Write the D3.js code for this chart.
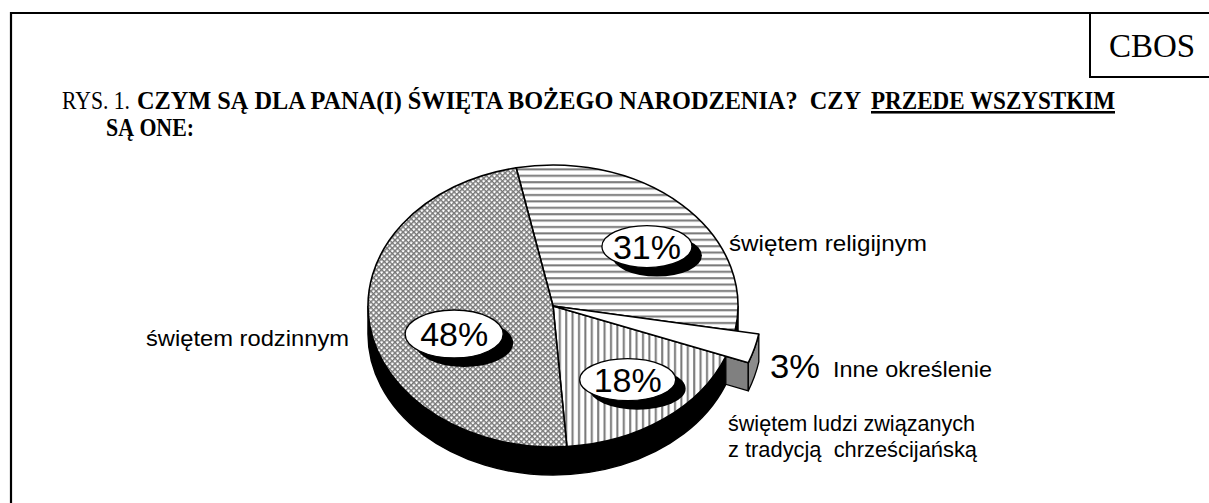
<!DOCTYPE html>
<html><head><meta charset="utf-8">
<script src="https://cdn.jsdelivr.net/npm/d3@7"></script>
<style>body{margin:0;background:#fff}svg{display:block}text{white-space:pre}</style>
</head><body>
<svg id="c" width="1209" height="503"></svg>
<script>
// ---- data ----
const categories = ["świętem religijnym", "Inne określenie", "świętem ludzi związanych|z tradycją  chrześcijańską", "świętem rodzinnym"];
const values = [31, 3, 18, 48];
const percentLabels = ["31%", "3%", "18%", "48%"];
const explodedIndex = [1];
const titleParts = ["RYS. 1.", "CZYM SĄ DLA PANA(I) ŚWIĘTA BOŻEGO NARODZENIA?  CZY", "PRZEDE WSZYSTKIM", "SĄ ONE:"];

// ---- layout ----
const W = 1209, H = 503;
const cx = 553, cy = 306, rx = 185, ry = 141, depth = 28, explodeK = 1.13;
const rad = Math.PI / 180;
const svg = d3.select("#c");

const defs = svg.append("defs");
const ph = defs.append("pattern").attr("id","hl").attr("patternUnits","userSpaceOnUse").attr("width",8).attr("height",6.4);
ph.append("rect").attr("width",8).attr("height",6.4).attr("fill","#fff");
ph.append("rect").attr("y",2).attr("width",8).attr("height",2).attr("fill","#777");
const pv = defs.append("pattern").attr("id","vl").attr("patternUnits","userSpaceOnUse").attr("width",6.4).attr("height",8);
pv.append("rect").attr("width",6.4).attr("height",8).attr("fill","#fff");
pv.append("rect").attr("x",2).attr("width",2).attr("height",8).attr("fill","#777");
const pc = defs.append("pattern").attr("id","ch").attr("patternUnits","userSpaceOnUse").attr("width",3.8).attr("height",3.8).attr("patternTransform","rotate(45)");
pc.append("rect").attr("width",3.8).attr("height",3.8).attr("fill","#fff");
pc.append("path").attr("d","M0,0.7H3.8M0.7,0V3.8").attr("stroke","#777").attr("stroke-width",1.5);
const fills = ["url(#hl)", "#fff", "url(#vl)", "url(#ch)"];

// frame
svg.append("path").attr("d",`M11,${H+5}V13H${W+5}`).attr("fill","none").attr("stroke","#000").attr("stroke-width",2.2);
svg.append("path").attr("d",`M1090,13V77H${W+5}`).attr("fill","none").attr("stroke","#000").attr("stroke-width",2);
svg.append("text").attr("x",1152).attr("y",57).attr("text-anchor","middle")
  .attr("font-family","'Liberation Serif','Times New Roman',serif").attr("font-size",33).text("CBOS");

// title
const tf = "'Liberation Serif','Times New Roman',serif";
const ttl = (x, y, s, len, bold, ul) => svg.append("text").attr("x",x).attr("y",y).attr("font-family",tf).attr("font-size",25.5)
  .attr("font-weight", bold ? "bold" : "normal").attr("text-decoration", ul ? "underline" : "none")
  .attr("textLength",len).attr("lengthAdjust","spacingAndGlyphs").text(s);
ttl(62, 109, titleParts[0], 68, false, false);
ttl(137, 109, titleParts[1], 724, true, false);
ttl(871, 109, titleParts[2], 244, true, true);
ttl(106, 136, titleParts[3], 88, true, false);

// pie
const pie = d3.pie().sort(null).value(d => d).startAngle(-11.5 * rad).endAngle(-11.5 * rad + 2 * Math.PI);
const arcs = pie(values);
const P = (t, k = 1, dy = 0) => [cx + k * rx * Math.sin(t), cy - k * ry * Math.cos(t) + dy];
const topPath = (a0, a1, k) => {
  const p0 = P(a0, k), p1 = P(a1, k), large = (a1 - a0) > Math.PI ? 1 : 0;
  return `M${cx},${cy}L${p0}A${k*rx},${k*ry} 0 ${large} 1 ${p1}Z`;
};
const g = svg.append("g");
{
  const r = P(90*rad), l = P(270*rad), rd = P(90*rad,1,depth), ld = P(270*rad,1,depth);
  g.append("path").attr("d",`M${r}A${rx},${ry} 0 0 1 ${l}L${ld}A${rx},${ry} 0 0 0 ${rd}Z`)
   .attr("fill","#000").attr("stroke","#000").attr("stroke-width",1.5);
}
explodedIndex.forEach(i => {
  const a = arcs[i], k = explodeK;
  const o1 = P(a.startAngle,k), o2 = P(a.endAngle,k), o1d = P(a.startAngle,k,depth), o2d = P(a.endAngle,k,depth);
  const i2 = P(a.endAngle,1), i2d = P(a.endAngle,1,depth);
  g.append("path").attr("d",`M${i2}L${o2}L${o2d}L${i2d}Z`).attr("fill","#808080").attr("stroke","#000").attr("stroke-width",1.3);
  g.append("path").attr("d",`M${o1}A${k*rx},${k*ry} 0 0 1 ${o2}L${o2d}A${k*rx},${k*ry} 0 0 0 ${o1d}Z`).attr("fill","#8c8c8c").attr("stroke","#000").attr("stroke-width",1.3);
});
arcs.forEach((a, i) => {
  if (explodedIndex.includes(i)) return;
  g.append("path").attr("d", topPath(a.startAngle, a.endAngle, 1)).attr("fill", fills[i]).attr("stroke","#000").attr("stroke-width",1.6).attr("stroke-linejoin","round");
});
explodedIndex.forEach(i => {
  const a = arcs[i];
  g.append("path").attr("d", topPath(a.startAngle, a.endAngle, explodeK)).attr("fill", fills[i]).attr("stroke","#000").attr("stroke-width",1.6).attr("stroke-linejoin","round");
});

// bubbles
const bubbleNudge = [6, 0, -1, -12.5];
const bubbleK = [0.66, 0, 0.66, 0.57];
const bubbleR = [[45,21],[0,0],[48,21],[49,24]];
const sf = "'Liberation Sans',Arial,sans-serif";
arcs.forEach((a, i) => {
  if (explodedIndex.includes(i)) return;
  const m = (a.startAngle + a.endAngle) / 2 + bubbleNudge[i] * rad;
  const [x, y] = P(m, bubbleK[i]);
  const [brx, bry] = bubbleR[i];
  g.append("ellipse").attr("cx",x+10).attr("cy",y+9).attr("rx",brx).attr("ry",bry).attr("fill","#000");
  g.append("ellipse").attr("cx",x).attr("cy",y).attr("rx",brx).attr("ry",bry).attr("fill","#fff").attr("stroke","#000").attr("stroke-width",1.3);
  g.append("text").attr("x",x).attr("y",y+12).attr("text-anchor","middle").attr("font-family",sf).attr("font-size",34).text(percentLabels[i]);
});

// outer labels
const lab = (x, y, s, size, len, anchor="start") => svg.append("text").attr("x",x).attr("y",y).attr("font-family",sf)
  .attr("font-size",size).attr("text-anchor",anchor).attr("textLength",len).attr("lengthAdjust","spacingAndGlyphs").text(s);
lab(729, 251, categories[0], 21.5, 198);
lab(146, 346, categories[3], 21.5, 203);
lab(770, 378, percentLabels[1], 34, 50);
lab(833, 377, categories[1], 21.5, 159);
const l2 = categories[2].split("|");
lab(728, 431, l2[0], 21.5, 247);
lab(728, 457, l2[1], 21.5, 249);
</script>
</body></html>
